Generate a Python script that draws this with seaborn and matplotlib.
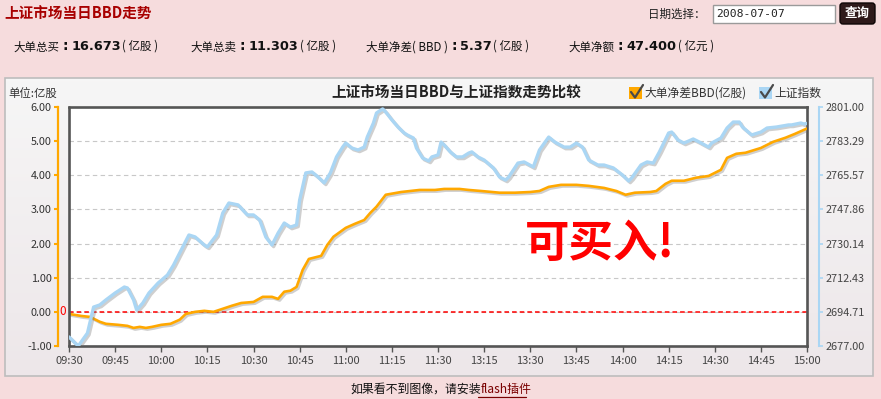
import numpy as np
import pandas as pd
import matplotlib
matplotlib.use("Agg")
import matplotlib.pyplot as plt
import seaborn as sns
from matplotlib.patches import Rectangle, FancyBboxPatch
import matplotlib.patheffects as pe

sns.set_style("white")
plt.rcParams['font.family'] = ['Noto Sans CJK SC', 'DejaVu Sans']
plt.rcParams['axes.unicode_minus'] = False

# ---------------- data ----------------
time_labels = ["09:30", "09:45", "10:00", "10:15", "10:30", "10:45", "11:00", "11:15",
               "11:30", "13:15", "13:30", "13:45", "14:00", "14:15", "14:30", "14:45", "15:00"]
tick_minutes = [0, 15, 30, 45, 60, 75, 90, 105, 120, 135, 150, 165, 180, 195, 210, 225, 240]

bbd_minute = [0, 4, 7, 8, 10, 12, 16, 19, 21, 23,
              25, 27, 30, 33, 36, 38, 41, 44, 47, 50,
              53, 56, 60, 63, 66, 68, 70, 72, 74, 76,
              78, 82, 84, 86, 90, 93, 96, 98, 100, 103,
              108, 114, 119, 122, 127, 130, 134, 140, 145, 150,
              153, 156, 160, 165, 169, 174, 178, 181, 184, 189,
              191, 194, 196, 200, 204, 208, 212, 214, 217, 220,
              225, 229, 233, 236, 240]
bbd_value = [-0.06, -0.12, -0.15, -0.20, -0.29, -0.35, -0.38, -0.41, -0.47, -0.44,
             -0.47, -0.44, -0.38, -0.35, -0.23, -0.06, 0.0, 0.03, 0.0, 0.09,
             0.18, 0.26, 0.29, 0.44, 0.44, 0.38, 0.59, 0.62, 0.73, 1.23,
             1.55, 1.64, 1.96, 2.20, 2.46, 2.58, 2.69, 2.90, 3.08, 3.43,
             3.51, 3.57, 3.57, 3.60, 3.60, 3.57, 3.54, 3.49, 3.49, 3.51,
             3.54, 3.66, 3.72, 3.72, 3.69, 3.63, 3.54, 3.43, 3.49, 3.51,
             3.54, 3.75, 3.84, 3.84, 3.93, 3.98, 4.16, 4.51, 4.63, 4.66,
             4.80, 4.98, 5.10, 5.21, 5.37]

idx_minute = [0, 3, 6, 8, 10, 12, 15, 18, 19, 21,
              22, 24, 26, 29, 32, 34, 37, 39, 41, 44,
              45, 48, 50, 52, 55, 58, 60, 62, 64, 66,
              68, 70, 72, 74, 75, 77, 79, 81, 83, 85,
              87, 89, 90, 92, 94, 96, 97, 99, 100, 102,
              103, 105, 107, 109, 110, 112, 113, 115, 117, 118,
              120, 121, 122, 124, 126, 128, 130, 131, 133, 135,
              138, 140, 142, 143, 146, 148, 151, 153, 156, 158,
              161, 163, 165, 167, 169, 172, 174, 177, 180, 182,
              183, 186, 188, 190, 192, 195, 196, 198, 200, 203,
              205, 208, 209, 212, 214, 216, 218, 219, 222, 225,
              227, 230, 234, 235, 238, 239, 240]
idx_value = [2681.7, 2677.0, 2683.7, 2697.2, 2698.3, 2700.9, 2704.5, 2707.6, 2707.1, 2700.9,
             2695.7, 2699.3, 2704.5, 2709.7, 2713.8, 2719.0, 2728.4, 2734.6, 2733.6, 2729.4,
             2728.4, 2734.6, 2746.0, 2751.2, 2750.2, 2745.0, 2745.0, 2742.4, 2733.6, 2729.4,
             2735.6, 2740.8, 2738.7, 2739.8, 2752.7, 2766.8, 2767.3, 2764.7, 2761.6, 2766.8,
             2775.1, 2780.2, 2782.3, 2779.7, 2778.7, 2780.2, 2785.4, 2792.7, 2797.9, 2800.0,
             2798.4, 2794.3, 2790.6, 2787.5, 2786.5, 2784.9, 2779.7, 2774.5, 2773.0, 2775.1,
             2776.1, 2782.8, 2781.3, 2777.7, 2775.1, 2775.1, 2777.1, 2777.7, 2775.1, 2773.5,
             2769.4, 2764.7, 2763.1, 2764.7, 2771.9, 2772.5, 2769.9, 2778.7, 2785.4, 2782.8,
             2780.2, 2780.2, 2782.3, 2780.2, 2773.5, 2770.9, 2770.9, 2769.4, 2765.7, 2762.6,
             2764.2, 2770.9, 2772.5, 2771.9, 2777.7, 2787.5, 2788.0, 2783.9, 2782.3, 2784.4,
             2782.8, 2780.2, 2782.3, 2784.9, 2790.1, 2793.2, 2793.2, 2790.6, 2786.5, 2788.0,
             2790.1, 2790.6, 2791.7, 2791.7, 2792.7, 2792.2, 2792.5]

bbd_ticks = [-1, 0, 1, 2, 3, 4, 5, 6]
idx_ticks = [2677.00, 2694.71, 2712.43, 2730.14, 2747.86, 2765.57, 2783.29, 2801.00]

stat_labels = ["大单总买", "大单总卖", "大单净差( BBD )", "大单净额"]
stat_values = ["16.673", "11.303", "5.37", "47.400"]
stat_units = ["( 亿股 )", "( 亿股 )", "( 亿股 )", "( 亿元 )"]

page_title = "上证市场当日BBD走势"
chart_title = "上证市场当日BBD与上证指数走势比较"
series_names = ["大单净差BBD(亿股)", "上证指数"]
date_text = "2008-07-07"
signal_text = "可买入!"

ORANGE = "#FFA800"
BLUE = "#AAD6F4"

# ---------------- figure ----------------
W, H = 881, 399
fig = plt.figure(figsize=(W / 100, H / 100), dpi=100)
fig.patch.set_facecolor("#F6DCDD")

deco = fig.add_axes([0, 0, 1, 1], zorder=0)
deco.axis("off")

# panel gradient
grad = np.linspace(0, 1, 100).reshape(-1, 1)
c_top = np.array([0.965, 0.965, 0.965])
c_bot = np.array([0.93, 0.905, 0.915])
img = c_top + (c_bot - c_top) * grad[:, :, None]
deco.imshow(img, extent=(5, 873, 376, 78), aspect="auto", zorder=0)
deco.add_patch(Rectangle((5, 78), 868, 298, fill=False, ec="#BDBDBD", lw=1.2, zorder=1))
deco.set_xlim(0, W)
deco.set_ylim(H, 0)

# header
deco.text(4, 14, page_title, color="#A80000", fontsize=10.5, weight="bold", va="center", ha="left")
deco.text(648, 14, "日期选择：", color="#222", fontsize=8.3, va="center", ha="left")
deco.add_patch(Rectangle((713, 4.5), 122, 18.5, fc="white", ec="#9A9A9A", lw=1))
deco.text(716, 14, date_text, color="#222", fontsize=8.2, va="center", ha="left",
          family=["DejaVu Sans Mono"])
deco.add_patch(FancyBboxPatch((840, 3), 35, 21, boxstyle="round,pad=0,rounding_size=3",
                              fc="#2E1A1A", ec="#0E0606", lw=1))
deco.text(857.5, 13.5, "查询", color="white", fontsize=9, weight="bold", va="center", ha="center")

label_x = [13, 190, 366, 568]
for lab, val, unit, lx in zip(stat_labels, stat_values, stat_units, label_x):
    t1 = deco.text(lx, 47, lab, color="#111", fontsize=8.3, va="center", ha="left")
    t2 = deco.annotate(":", xy=(1, 0.5), xycoords=t1, xytext=(2.5, 0.5), textcoords="offset points",
                       color="#111", fontsize=10, weight="bold", va="center", ha="left",
                       family=["DejaVu Sans"])
    t3 = deco.annotate(val, xy=(1, 0.5), xycoords=t2, xytext=(2.5, -0.3), textcoords="offset points",
                       color="#111", fontsize=9.3, weight="bold", va="center", ha="left",
                       family=["DejaVu Sans"])
    deco.annotate(unit, xy=(1, 0.5), xycoords=t3, xytext=(1, 0.3), textcoords="offset points",
                  color="#111", fontsize=8.3, va="center", ha="left")

# chart title, unit, legend
deco.text(456, 93, chart_title, color="#222", fontsize=10.5, weight="bold", va="center", ha="center")
deco.text(8, 94, "单位:亿股", color="#333", fontsize=8.2, va="center", ha="left")
for bx, col, name in zip([629, 759], [ORANGE, BLUE], series_names):
    deco.add_patch(Rectangle((bx, 87), 13, 12, fc=col, ec="none", zorder=2))
    deco.plot([bx + 2, bx + 6, bx + 14], [92, 97.5, 85], color="#4A4A4A", lw=1.6, zorder=3,
              solid_capstyle="round")
    deco.text(bx + 15, 93, name, color="#333", fontsize=8.5, va="center", ha="left")

# footer
f1 = deco.text(350, 389, "如果看不到图像，请安装", color="#111", fontsize=8.6, va="center", ha="left")
deco.annotate("flash插件", xy=(1, 0.5), xycoords=f1, xytext=(0, 0), textcoords="offset points",
              color="#7A0000", fontsize=8.6, va="center", ha="left")
deco.plot([478, 526], [396.5, 396.5], color="#7A0000", lw=0.9)
deco.set_xlim(0, W)
deco.set_ylim(H, 0)

# ---------------- chart axes ----------------
ax = fig.add_axes([69 / W, 1 - 346 / H, 738 / W, 239 / H], zorder=2)
ax.set_facecolor("white")
ax2 = ax.twinx()
ax2.set_zorder(3)
ax2.patch.set_visible(False)

bbd_df = pd.DataFrame({"minute": bbd_minute, "bbd": bbd_value})
idx_df = pd.DataFrame({"minute": idx_minute, "index": idx_value})

shadow = [pe.SimpleLineShadow(offset=(1.2, -1.2), shadow_color="#777", alpha=0.35), pe.Normal()]

# grid & zero line
ax.set_ylim(-1, 6)
ax.set_yticks(bbd_ticks)
ax.yaxis.grid(True, color="#C8C8C8", ls=(0, (4, 3)), lw=0.8)
ax.xaxis.grid(False)
ax.axhline(0, color="#FF0000", ls=(0, (3, 2)), lw=1.1, zorder=1.5)

sns.lineplot(data=bbd_df, x="minute", y="bbd", ax=ax, color=ORANGE, linewidth=1.9,
             estimator=None, sort=False, legend=False)
ax.lines[-1].set_path_effects(shadow)
ax.lines[-1].set_zorder(3)
sns.lineplot(data=idx_df, x="minute", y="index", ax=ax2, color=BLUE, linewidth=2.4,
             estimator=None, sort=False, legend=False)
ax2.lines[-1].set_path_effects(shadow)

ax.set_xlim(0, 240)
ax2.set_xlim(0, 240)
ax.set_ylim(-1, 6)
ax2.set_ylim(2677, 2801)

ax.set_xticks(tick_minutes)
ax.set_xticklabels(time_labels)
ax.set_yticks(bbd_ticks)
ax.set_yticklabels([f"{v:.2f}" for v in bbd_ticks])
ax2.set_yticks(idx_ticks)
ax2.set_yticklabels([f"{v:.2f}" for v in idx_ticks])
for a in (ax, ax2):
    a.set_xlabel("")
    a.set_ylabel("")

# spines
for s in ("top", "bottom", "right"):
    ax.spines[s].set_color("#555555")
    ax.spines[s].set_linewidth(1.9)
ax.spines["left"].set_position(("outward", 8))
ax.spines["left"].set_color(ORANGE)
ax.spines["left"].set_linewidth(1.6)
ax.plot([0, 0], [0, 1], transform=ax.transAxes, color="#555555", lw=1.9, clip_on=False, zorder=5)
for s in ("top", "bottom", "left"):
    ax2.spines[s].set_visible(False)
ax2.spines["right"].set_position(("outward", 8.6))
ax2.spines["right"].set_color(BLUE)
ax2.spines["right"].set_linewidth(1.5)

ax.tick_params(axis="y", direction="out", length=3, width=1.5, color=ORANGE,
               labelsize=7.8, labelcolor="#333", pad=1.5, left=True)
ax.tick_params(axis="x", direction="out", length=4, width=1, color="#555",
               labelsize=8, labelcolor="#444", pad=3, bottom=True)
ax2.tick_params(axis="y", direction="out", length=3, width=1.2, color=BLUE,
                labelsize=7.8, labelcolor="#444", pad=1.5, right=True)

# zero marker
ax.annotate("0", xy=(0, 0), xycoords=("axes fraction", "data"), xytext=(-2, 0),
            textcoords="offset points", ha="right", va="center", color="#FF0000",
            fontsize=8.5, annotation_clip=False)

# signal text
ax2.text(0.618, 0.425, signal_text, transform=ax2.transAxes, color="#FF0000",
         fontsize=32, weight="bold", ha="left", va="center")

fig.savefig("out.png", dpi=100, facecolor=fig.get_facecolor())
